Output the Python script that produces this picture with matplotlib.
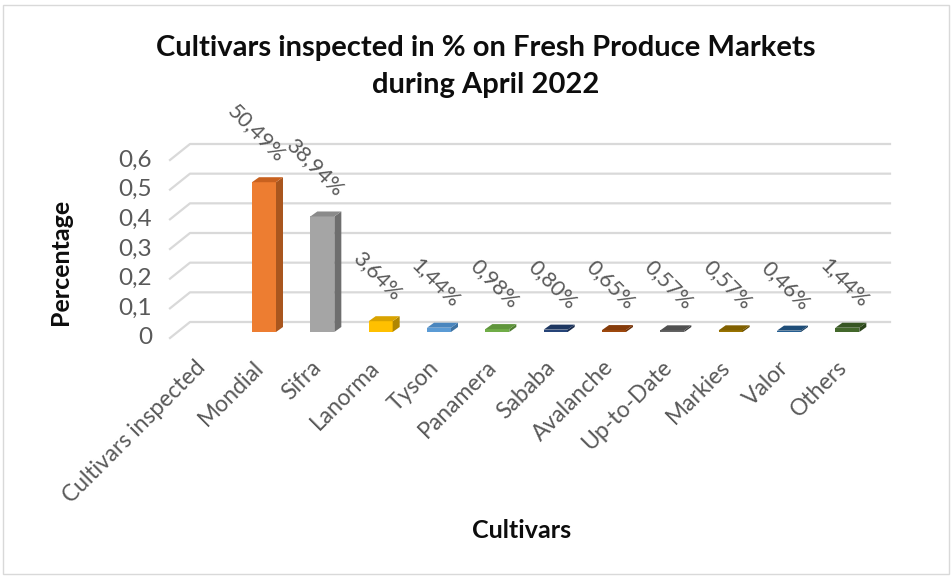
import numpy as np
import matplotlib.pyplot as plt
from matplotlib.patches import Polygon, Rectangle

plt.rcParams['font.family'] = ['Lato', 'DejaVu Sans']

# data
cultivars = ["Cultivars inspected", "Mondial", "Sifra", "Lanorma", "Tyson", "Panamera",
             "Sababa", "Avalanche", "Up-to-Date", "Markies", "Valor", "Others"]
share = [np.nan, 0.5049, 0.3894, 0.0364, 0.0144, 0.0098, 0.0080,
         0.0065, 0.0057, 0.0057, 0.0046, 0.0144]
y_ticks = [0, 0.1, 0.2, 0.3, 0.4, 0.5, 0.6]
y_tick_labels = ["0", "0,1", "0,2", "0,3", "0,4", "0,5", "0,6"]

# Excel office theme colours (front / side / top face)
front_colors = ["#FFFFFF", "#ED7D31", "#A5A5A5", "#FFC000", "#5B9BD5", "#70AD47",
                "#264478", "#9E480E", "#636363", "#997300", "#255E91", "#43682B"]
side_colors = ["#FFFFFF", "#A9561E", "#6E6E6E", "#B08600", "#3F73A3", "#4F7D31",
               "#17294A", "#6B2F08", "#3C3C3C", "#654C00", "#173C5E", "#2B441B"]
top_colors = ["#FFFFFF", "#C8611F", "#8A8A8A", "#D9A300", "#4A86BE", "#5F953B",
              "#1E3761", "#853B0A", "#505050", "#806000", "#1E4D78", "#375623"]

W, H = 952, 577
fig = plt.figure(figsize=(W / 100, H / 100), dpi=100)

# back wall of the pseudo 3d plot
ax = fig.add_axes([190 / W, (H - 322) / H, 700 / W, 178 / H])
ax.set_xlim(-0.5, len(cultivars) - 0.5)
ax.set_ylim(0, 0.6)
ax.axis('off')

x0, x1 = ax.get_xlim()
px_x = (x1 - x0) / 700.0
px_y = 0.6 / 178.0


def dx(p):
    return p * px_x


def dy(p):
    return p * px_y


# gridlines with the little floor diagonal on the left
for v, lab in zip(y_ticks, y_tick_labels):
    ax.plot([x0 - dx(20), x0, x1], [v - dy(16), v, v], color='#D9D9D9',
            lw=1.6, clip_on=False, zorder=1)
    ax.text(x0 - dx(38), v - dy(16), lab, ha='right', va='center',
            fontsize=17.5, color='#595959')

hw = dx(12)
ddx, ddy = dx(7), dy(5)
base = -dy(10)
for i, (name, v) in enumerate(zip(cultivars, share)):
    xc = i - dx(13.5)
    if not np.isnan(v):
        top = base + v
        ax.bar(xc, v, width=2 * hw, bottom=base, color=front_colors[i],
               clip_on=False, zorder=3)
        side = Polygon([(xc + hw, base), (xc + hw + ddx, base + ddy),
                        (xc + hw + ddx, top + ddy), (xc + hw, top)],
                       closed=True, fc=side_colors[i], ec='none', clip_on=False, zorder=3)
        lid = Polygon([(xc - hw, top), (xc + hw, top), (xc + hw + ddx, top + ddy),
                       (xc - hw + ddx, top + ddy)],
                      closed=True, fc=top_colors[i], ec='none', clip_on=False, zorder=3)
        ax.add_patch(side)
        ax.add_patch(lid)
        lbl = f"{v * 100:.2f}%".replace('.', ',')
        ax.text(xc + dx(18), top + dy(24), lbl, rotation=-45, rotation_mode='anchor',
                ha='right', va='center', fontsize=15.5, color='#595959', zorder=4)
    ax.text(xc - dx(4), -dy(42), name, rotation=45, rotation_mode='anchor',
            ha='right', va='center', fontsize=16.5, color='#595959')

fig.text(486 / W, 1 - 48 / H, "Cultivars inspected in % on Fresh Produce Markets",
         ha='center', va='center', fontsize=21, fontweight='bold', color='#0D0D0D')
fig.text(486 / W, 1 - 85 / H, "during April 2022",
         ha='center', va='center', fontsize=21, fontweight='bold', color='#0D0D0D')
fig.text(61 / W, 1 - 262 / H, "Percentage", rotation=90, ha='center', va='center',
         fontsize=18, fontweight='bold', color='#0D0D0D')
fig.text(522 / W, 1 - 530 / H, "Cultivars", ha='center', va='center',
         fontsize=18, fontweight='bold', color='#0D0D0D')

# chart area border
fig.add_artist(Rectangle((3 / W, 3 / H), 946 / W, 569 / H, transform=fig.transFigure,
                         fill=False, ec='#D9D9D9', lw=1))

fig.savefig("out.png", dpi=100)
